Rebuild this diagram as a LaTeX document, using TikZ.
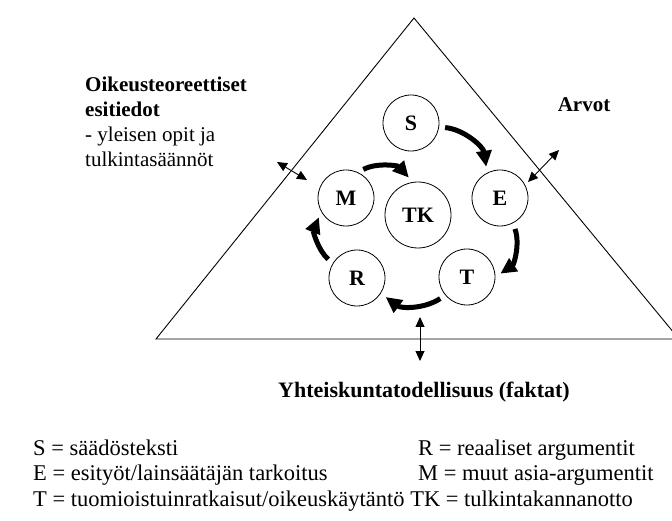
\documentclass[tikz,border=0pt]{standalone}
\usepackage{fontspec}
\setmainfont{Liberation Serif}
\usetikzlibrary{arrows.meta, positioning}

\begin{document}
\begin{tikzpicture}[
      x=1pt, y=1pt,
      circ/.style={draw, circle, line width=0.8pt, minimum size=56pt, inner sep=0pt,
                   font=\bfseries\fontsize{22}{26}\selectfont},
      cyc/.style={line width=5pt, -{Triangle[length=16pt, width=15pt]},
                  shorten <=6pt, shorten >=6pt},
      dbl/.style={{Triangle[length=10pt, width=9pt]}-{Triangle[length=10pt, width=9pt]},
                  line width=0.9pt},
      head/.style={anchor=base west, inner sep=0pt, font=\bfseries\fontsize{21}{25}\selectfont},
      txt/.style={anchor=base west, inner sep=0pt, font=\fontsize{21}{25}\selectfont},
      lgd/.style={anchor=base west, inner sep=0pt, font=\fontsize{22.5}{25}\selectfont}
    ]
    \useasboundingbox (0,0) rectangle (672,520);

    % triangle
    \draw[line width=0.9pt] (156,181) -- (414,502) -- (679,181) -- cycle;

    % circles
    \node[circ] (S) at (411,397) {S};
    \node[circ] (E) at (500,322) {E};
    \node[circ] (T) at (467,243) {T};
    \node[circ] (R) at (357,242) {R};
    \node[circ] (M) at (346,322) {M};
    \node[circ, minimum size=66pt] (TK) at (418,305) {TK};

    \draw[cyc] (S.-8)  to[bend left=38] (E.117);
    \draw[cyc] (E.-63) to[bend left=38] (T.0);
    \draw[cyc] (T.220) to[bend left=35] (R.-33);
    \draw[cyc] (R.149) to[bend left=35] (M.209);
    \draw[cyc] (M.65)  to[bend left=38] (TK.99);

    % outer labels
    \node[head] (oik) at (85,428) {Oikeusteoreettiset};
    \node[head] (esi) at ([yshift=-25pt]oik.base west) {esitiedot};
    \node[txt] (yle) at ([yshift=-25pt]esi.base west) {- yleisen opit ja};
    \node[txt] (tulk) at ([yshift=-25pt]yle.base west) {tulkintasäännöt};
    \node[head, anchor=base] (arv) at (584,408) {Arvot};
    \node[head, anchor=base, font=\bfseries\fontsize{22}{25}\selectfont] (yht) at (424,123)
      {Yhteiskuntatodellisuus (faktat)};

    \coordinate (lw1) at (277,358);
    \coordinate (lw2) at (307,340);
    \coordinate (rt1) at (528,338);
    \coordinate (rt2) at (559,370);
    \coordinate (bt1) at (420,203);
    \coordinate (bt2) at (420,159);
    \draw[dbl] (lw1) -- (lw2);
    \draw[dbl] (rt1) -- (rt2);
    \draw[dbl] (bt1) -- (bt2);

    % legend
    \node[lgd] (ls) at (33,65) {S = säädösteksti};
    \node[lgd] (le) at ([yshift=-25.5pt]ls.base west) {E = esityöt/lainsäätäjän tarkoitus};
    \node[lgd] (lt) at ([yshift=-25.5pt]le.base west)
      {T = tuomioistuinratkaisut/oikeuskäytäntö TK = tulkintakannanotto};
    \node[lgd] (lr) at (418,65) {R = reaaliset argumentit};
    \node[lgd] (lm) at ([yshift=-25.5pt]lr.base west) {M = muut asia-argumentit};
  \end{tikzpicture}
\end{document}
